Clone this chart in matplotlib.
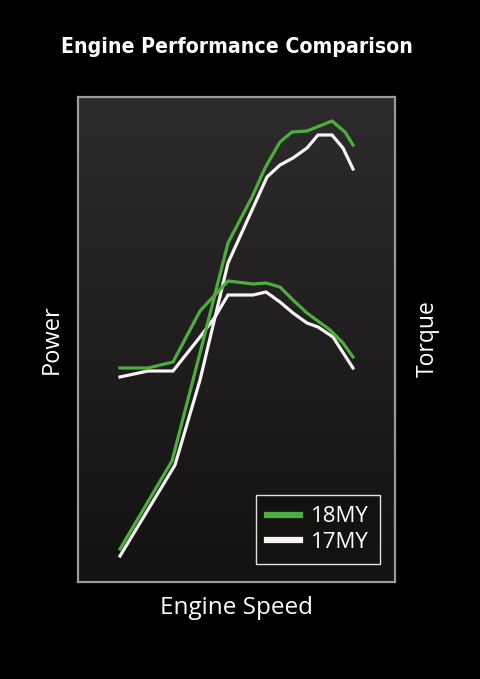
import numpy as np
import matplotlib
matplotlib.use('Agg')
import matplotlib.pyplot as plt
from matplotlib.lines import Line2D

# Engine speed / output in arbitrary units (no scale on the chart)
power_18_x = [42, 94, 122, 150, 174, 187, 202, 214, 229, 254, 267, 275]
power_18_y = [33, 121, 229, 339, 385, 414, 440, 450, 451, 461, 450, 437]
power_17_x = [42, 97, 122, 150, 189, 202, 215, 229, 240, 254, 265, 275]
power_17_y = [26, 117, 202, 319, 405, 417, 424, 434, 447, 447, 434, 413]

torque_18_x = [42, 70, 95, 122, 135, 150, 175, 188, 202, 215, 229, 252, 265, 275]
torque_18_y = [214, 214, 220, 271, 285, 301, 298, 299, 295, 282, 269, 252, 239, 225]
torque_17_x = [42, 70, 95, 122, 137, 150, 175, 188, 202, 215, 229, 240, 255, 275]
torque_17_y = [205, 211, 211, 245, 265, 287, 287, 290, 280, 269, 259, 255, 245, 214]

series_labels = ['18MY', '17MY']
series_colors = ['#4dae3d', '#f4f4f4']

W, H = 480, 679
fig = plt.figure(figsize=(W / 100, H / 100), dpi=100)
fig.patch.set_facecolor('black')

ax = fig.add_axes([78 / W, 1 - 582 / H, 317 / W, 485 / H])
ax.set_xlim(0, 317)
ax.set_ylim(0, 485)

# vertical gradient background
grad = np.linspace(0, 1, 256).reshape(-1, 1)
cmap = matplotlib.colors.LinearSegmentedColormap.from_list('bg', ['#131111', '#2d2b2b'])
ax.imshow(grad, extent=[0, 317, 0, 485], origin='lower', aspect='auto', cmap=cmap, zorder=0)

ax.plot(power_17_x, power_17_y, color=series_colors[1], lw=2.3, solid_joinstyle='miter', zorder=2)
ax.plot(torque_17_x, torque_17_y, color=series_colors[1], lw=2.3, solid_joinstyle='miter', zorder=2)
ax.plot(power_18_x, power_18_y, color=series_colors[0], lw=2.3, solid_joinstyle='miter', zorder=3)
ax.plot(torque_18_x, torque_18_y, color=series_colors[0], lw=2.3, solid_joinstyle='miter', zorder=3)

ax.set_xticks([])
ax.set_yticks([])
for s in ax.spines.values():
    s.set_color('#9a9a9a')
    s.set_linewidth(1.6)

handles = [Line2D([], [], color=c, lw=4.5) for c in series_colors]
leg = ax.legend(handles, series_labels, loc='lower right', bbox_to_anchor=(0.953, 0.037),
                borderaxespad=0, frameon=True, fancybox=False, handlelength=1.5,
                handletextpad=0.5, borderpad=0.5, labelspacing=0.2,
                prop={'family': 'Open Sans', 'size': 16})
leg.get_frame().set_facecolor('#141111')
leg.get_frame().set_edgecolor('#e0e0e0')
leg.get_frame().set_linewidth(1.0)
leg.get_frame().set_alpha(1)
for t in leg.get_texts():
    t.set_color('white')

fig.text(237 / W, 1 - 47 / H, 'Engine Performance Comparison', ha='center', va='center',
         color='white', fontsize=15.2, fontweight='bold', fontstretch='condensed',
         family=['DejaVu Sans'])
fig.text(236 / W, 1 - 608 / H, 'Engine Speed', ha='center', va='center',
         color='white', fontsize=17.5, family='Open Sans')
fig.text(52 / W, 1 - 339 / H, 'Power', ha='center', va='center', rotation=90,
         color='white', fontsize=17, family='Open Sans')
fig.text(428 / W, 1 - 339 / H, 'Torque', ha='center', va='center', rotation=90,
         color='white', fontsize=16.5, family='Open Sans')

fig.savefig('out.png', dpi=100, facecolor='black')
